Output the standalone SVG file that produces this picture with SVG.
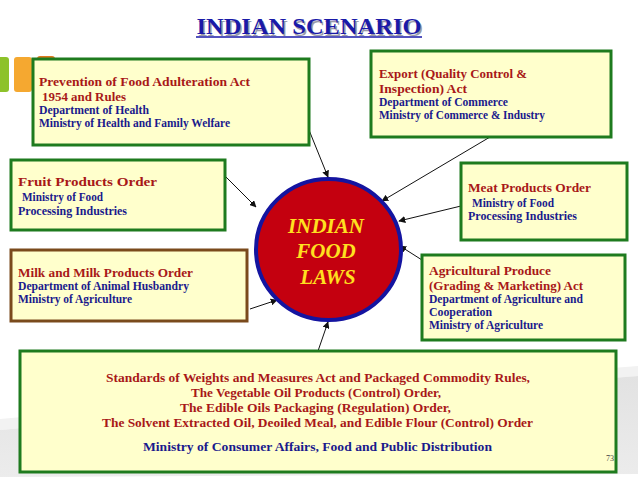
<svg xmlns="http://www.w3.org/2000/svg" width="638" height="479" viewBox="0 0 638 479">
<defs>
<marker id="ah" viewBox="0 0 10 10" refX="9" refY="5" markerWidth="7" markerHeight="7" orient="auto" markerUnits="userSpaceOnUse">
<path d="M0,0 L10,5 L0,10 z" fill="#111"/>
</marker>
<linearGradient id="sw" x1="0" y1="0" x2="0" y2="1">
<stop offset="0" stop-color="#e2e2e2"/>
<stop offset="1" stop-color="#ececec"/>
</linearGradient>
</defs>
<style>
.box{fill:#ffffcc;stroke:#1e7b1e;stroke-width:3}
.brown{stroke:#7a4a1c}
.r{font-family:"Liberation Serif",serif;font-weight:bold;fill:#a81818;font-size:13px}
.b{font-family:"Liberation Serif",serif;font-weight:bold;fill:#1a1a8c;font-size:11.5px}
.c{text-anchor:middle}
.con line{stroke:#111;stroke-width:1;marker-end:url(#ah)}
.lw{font-family:"Liberation Serif",serif;font-weight:bold;font-style:italic;fill:#ffe020;font-size:21px;text-anchor:middle}
</style>
<rect width="638" height="479" fill="#ffffff"/>
<!-- background swoosh -->
<path d="M0,419 Q300,392 638,366 L638,376 Q300,402 0,430 Z" fill="#f2f2f2"/>
<path d="M0,430 Q300,402 638,376 L638,474 L0,477 Z" fill="url(#sw)"/>
<!-- decorative squares -->
<rect x="-4" y="57" width="13" height="35" rx="3" fill="#8dc22a"/>
<rect x="14" y="57" width="18" height="35" rx="3" fill="#f5a830"/>
<rect x="37" y="56" width="18" height="30" rx="3" fill="#e0781e"/>
<!-- title -->
<g id="title">
<text x="309" y="34" text-anchor="middle" font-family="'Liberation Serif',serif" font-weight="bold" font-size="24" fill="#9a9aa8" textLength="225" lengthAdjust="spacingAndGlyphs" transform="translate(1.5,1.5)">INDIAN SCENARIO</text>
<text x="309" y="34" text-anchor="middle" font-family="'Liberation Serif',serif" font-weight="bold" font-size="24" fill="#1a1aa8" textLength="225" lengthAdjust="spacingAndGlyphs">INDIAN SCENARIO</text>
<line x1="196" y1="37" x2="422" y2="37" stroke="#1a1aa8" stroke-width="1.5"/>
</g>
<!-- connectors -->
<g id="connectors" class="con">
<line x1="309" y1="130" x2="328" y2="177"/>
<line x1="490" y1="137" x2="382" y2="201"/>
<line x1="225" y1="176" x2="256" y2="207"/>
<line x1="461" y1="206" x2="399" y2="221"/>
<line x1="422" y1="260" x2="400" y2="246"/>
<line x1="250" y1="309" x2="277" y2="300"/>
<line x1="318" y1="351" x2="328" y2="322"/>
</g>
<!-- center -->
<g id="center">
<ellipse cx="328.5" cy="249.5" rx="72.5" ry="70.5" fill="#c4000f" stroke="#1414a0" stroke-width="4"/>
<text class="lw" x="326" y="233">INDIAN</text>
<text class="lw" x="326" y="258">FOOD</text>
<text class="lw" x="328" y="284">LAWS</text>
</g>
<g id="pfa">
<rect class="box" x="33" y="59" width="276" height="86"/>
<text class="r" x="39" y="86" textLength="211" lengthAdjust="spacingAndGlyphs">Prevention of Food Adulteration Act</text>
<text class="r" x="42" y="101" textLength="84" lengthAdjust="spacingAndGlyphs">1954 and Rules</text>
<text class="b" x="39" y="114" textLength="110" lengthAdjust="spacingAndGlyphs">Department of Health</text>
<text class="b" x="39" y="127" textLength="191" lengthAdjust="spacingAndGlyphs">Ministry of Health and Family Welfare</text>
</g>
<g id="export">
<rect class="box" x="371" y="51" width="240" height="86"/>
<text class="r" x="379" y="78" textLength="148" lengthAdjust="spacingAndGlyphs">Export (Quality Control &amp;</text>
<text class="r" x="379" y="93" textLength="88" lengthAdjust="spacingAndGlyphs">Inspection) Act</text>
<text class="b" x="379" y="106" textLength="129" lengthAdjust="spacingAndGlyphs">Department of Commerce</text>
<text class="b" x="379" y="119" textLength="166" lengthAdjust="spacingAndGlyphs">Ministry of Commerce &amp; Industry</text>
</g>
<g id="fruit">
<rect class="box" x="11" y="160" width="214" height="70"/>
<text class="r" x="18" y="186" textLength="139" lengthAdjust="spacingAndGlyphs">Fruit Products Order</text>
<text class="b" x="22" y="201" textLength="81" lengthAdjust="spacingAndGlyphs">Ministry of Food</text>
<text class="b" x="18" y="215" textLength="109" lengthAdjust="spacingAndGlyphs">Processing Industries</text>
</g>
<g id="milk">
<rect class="box brown" x="11" y="250" width="236" height="71"/>
<text class="r" x="18" y="277" textLength="175" lengthAdjust="spacingAndGlyphs">Milk and Milk Products Order</text>
<text class="b" x="18" y="290" textLength="171" lengthAdjust="spacingAndGlyphs">Department of Animal Husbandry</text>
<text class="b" x="18" y="303" textLength="114" lengthAdjust="spacingAndGlyphs">Ministry of Agriculture</text>
</g>
<g id="meat">
<rect class="box" x="461" y="163" width="166" height="77"/>
<text class="r" x="468" y="192" textLength="123" lengthAdjust="spacingAndGlyphs">Meat Products Order</text>
<text class="b" x="472" y="207" textLength="82" lengthAdjust="spacingAndGlyphs">Ministry of Food</text>
<text class="b" x="468" y="220" textLength="109" lengthAdjust="spacingAndGlyphs">Processing Industries</text>
</g>
<g id="agri">
<rect class="box" x="422" y="255" width="203" height="85"/>
<text class="r" x="429" y="275" textLength="122" lengthAdjust="spacingAndGlyphs">Agricultural Produce</text>
<text class="r" x="429" y="290" textLength="154" lengthAdjust="spacingAndGlyphs">(Grading &amp; Marketing) Act</text>
<text class="b" x="429" y="303" textLength="154" lengthAdjust="spacingAndGlyphs">Department of Agriculture and</text>
<text class="b" x="429" y="316" textLength="63" lengthAdjust="spacingAndGlyphs">Cooperation</text>
<text class="b" x="429" y="329" textLength="114" lengthAdjust="spacingAndGlyphs">Ministry of Agriculture</text>
</g>
<g id="weights">
<rect class="box" x="20" y="351" width="596" height="121"/>
<text class="r c" x="318" y="382" textLength="424" lengthAdjust="spacingAndGlyphs">Standards of Weights and Measures Act and Packaged Commodity Rules,</text>
<text class="r c" x="316" y="397" textLength="250" lengthAdjust="spacingAndGlyphs">The Vegetable Oil Products (Control) Order,</text>
<text class="r c" x="315.5" y="412" textLength="271" lengthAdjust="spacingAndGlyphs">The Edible Oils Packaging (Regulation) Order,</text>
<text class="r c" x="317.5" y="427" textLength="431" lengthAdjust="spacingAndGlyphs">The Solvent Extracted Oil, Deoiled Meal, and Edible Flour (Control) Order</text>
<text class="b c" x="317.5" y="451" font-size="12.5" textLength="349" lengthAdjust="spacingAndGlyphs">Ministry of Consumer Affairs, Food  and Public Distribution</text>
<text x="606" y="461" font-family="'Liberation Serif',serif" font-size="8" fill="#444">73</text>
</g>
</svg>
